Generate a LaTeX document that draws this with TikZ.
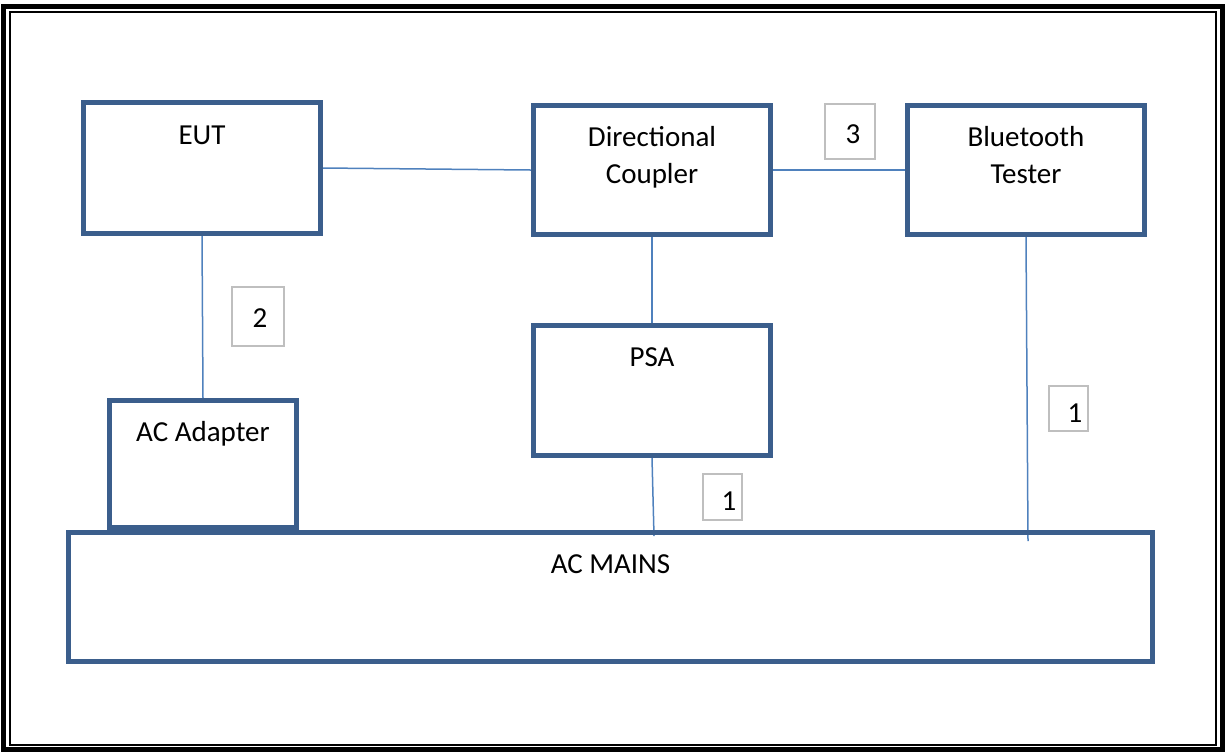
\documentclass[tikz,border=0pt]{standalone}
\usepackage{fontspec}
\setmainfont{Carlito}
\usetikzlibrary{backgrounds}

\definecolor{boxblue}{HTML}{3B5E8C}
\definecolor{wireblue}{HTML}{4F81BD}
\definecolor{taggray}{HTML}{BFBFBF}

\begin{document}
\begin{tikzpicture}[x=0.5pt, y=-0.5pt,
    blk/.style={draw=boxblue, line width=2.35pt, inner sep=0pt},
    tag/.style={draw=taggray, line width=1pt, inner sep=0pt},
    wire/.style={draw=wireblue, line width=0.75pt},
    txt/.style={anchor=base, inner sep=0pt, font=\fontsize{14.5}{18.5}\selectfont}]
    \useasboundingbox (0,0) rectangle (1225,752);
    \draw[line width=2.5pt] (3,6.5) rectangle (1222,749.5);
    \draw[line width=1pt] (10,12) rectangle (1216,744.5);

    \node[blk, minimum width=118.5pt, minimum height=65.5pt] (eut) at (202,168) {};
    \node[blk, minimum width=118.5pt, minimum height=64.5pt] (dc) at (652,170) {};
    \node[blk, minimum width=118.5pt, minimum height=64.5pt] (bt) at (1026,170) {};
    \node[blk, minimum width=118.5pt, minimum height=65pt] (psa) at (652,390.5) {};
    \node[blk, minimum width=93.5pt, minimum height=63.5pt] (adp) at (203,464) {};
    \node[blk, minimum width=542pt, minimum height=64.5pt] (mains) at (610.5,597) {};

    \node[txt] (eutT) at (202,144) {EUT};
    \node[txt, anchor=north, align=center] (dcT) at (652,126) {Directional\\Coupler};
    \node[txt, anchor=north, align=center] (btT) at (1026,126) {Bluetooth\\Tester};
    \node[txt] (psaT) at (652,366) {PSA};
    \node[txt] (adpT) at (203,441) {AC Adapter};
    \node[txt] (mainsT) at (610.5,573) {AC MAINS};

    \node[tag, minimum width=25pt, minimum height=27.5pt] (t3) at (850,131.5) {};
    \node[tag, minimum width=26pt, minimum height=29.5pt] (t2) at (258,316.5) {};
    \node[tag, minimum width=19.5pt, minimum height=22.5pt] (t1b) at (1068.5,408.5) {};
    \node[tag, minimum width=19.5pt, minimum height=23pt] (t1a) at (722.5,497) {};
    \node[txt] (n3) at (853,143) {3};
    \node[txt] (n2) at (260,327) {2};
    \node[txt] (n1b) at (1075,422) {1};
    \node[txt] (n1a) at (729,510) {1};

    \coordinate (mainsA) at (654,536);
    \coordinate (mainsB) at (1028,541);
    \begin{scope}[on background layer]
        \draw[wire] (eut.east) -- (dc.west);
        \draw[wire] (dc.east) -- (bt.west);
        \draw[wire] (eut.south) -- (adp.north);
        \draw[wire] (dc.south) -- (psa.north);
        \draw[wire] (psa.south) -- (mainsA);
        \draw[wire] (bt.south) -- (mainsB);
    \end{scope}
\end{tikzpicture}
\end{document}
